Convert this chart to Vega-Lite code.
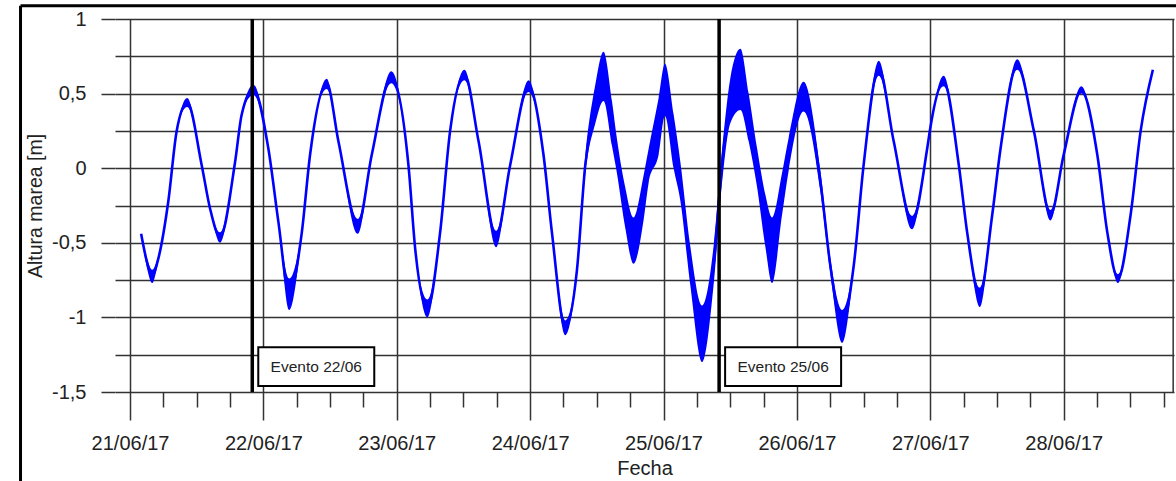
{
  "$schema": "https://vega.github.io/schema/vega-lite/v6.json",
  "width": 1059,
  "height": 373,
  "autosize": {"type": "none"},
  "padding": {"left": 115, "top": 19, "right": 2, "bottom": 89},
  "background": "white",
  "config": {"view": {"stroke": null}, "font": "Liberation Sans"},
  "datasets": {
    "marea": [
      {"fecha": "2017-06-21T02:00", "altura": -0.44, "min": -0.44, "max": -0.44},
      {"fecha": "2017-06-21T03:00", "altura": -0.62, "min": -0.66, "max": -0.6},
      {"fecha": "2017-06-21T04:00", "altura": -0.72, "min": -0.77, "max": -0.68},
      {"fecha": "2017-06-21T05:00", "altura": -0.62, "min": -0.64, "max": -0.6},
      {"fecha": "2017-06-21T06:54", "altura": -0.22, "min": -0.22, "max": -0.22},
      {"fecha": "2017-06-21T08:24", "altura": 0.25, "min": 0.25, "max": 0.25},
      {"fecha": "2017-06-21T10:18", "altura": 0.44, "min": 0.41, "max": 0.47},
      {"fecha": "2017-06-21T12:54", "altura": 0.02, "min": 0.02, "max": 0.02},
      {"fecha": "2017-06-21T14:24", "altura": -0.27, "min": -0.27, "max": -0.27},
      {"fecha": "2017-06-21T16:12", "altura": -0.46, "min": -0.5, "max": -0.43},
      {"fecha": "2017-06-21T18:54", "altura": 0.04, "min": 0.04, "max": 0.04},
      {"fecha": "2017-06-21T20:06", "altura": 0.36, "min": 0.36, "max": 0.36},
      {"fecha": "2017-06-21T22:12", "altura": 0.53, "min": 0.49, "max": 0.56},
      {"fecha": "2017-06-22T00:54", "altura": 0.13, "min": 0.13, "max": 0.13},
      {"fecha": "2017-06-22T02:42", "altura": -0.36, "min": -0.36, "max": -0.36},
      {"fecha": "2017-06-22T04:38", "altura": -0.84, "min": -0.95, "max": -0.74},
      {"fecha": "2017-06-22T06:55", "altura": -0.43, "min": -0.45, "max": -0.41},
      {"fecha": "2017-06-22T08:24", "altura": 0.09, "min": 0.09, "max": 0.09},
      {"fecha": "2017-06-22T11:24", "altura": 0.57, "min": 0.53, "max": 0.6},
      {"fecha": "2017-06-22T13:30", "altura": 0.18, "min": 0.18, "max": 0.18},
      {"fecha": "2017-06-22T17:00", "altura": -0.38, "min": -0.44, "max": -0.34},
      {"fecha": "2017-06-22T19:30", "altura": 0.09, "min": 0.09, "max": 0.09},
      {"fecha": "2017-06-22T23:00", "altura": 0.61, "min": 0.57, "max": 0.65},
      {"fecha": "2017-06-23T02:06", "altura": 0.02, "min": 0.02, "max": 0.02},
      {"fecha": "2017-06-23T03:19", "altura": -0.54, "min": -0.54, "max": -0.54},
      {"fecha": "2017-06-23T05:31", "altura": -0.94, "min": -1.0, "max": -0.88},
      {"fecha": "2017-06-23T07:48", "altura": -0.43, "min": -0.43, "max": -0.43},
      {"fecha": "2017-06-23T09:36", "altura": 0.25, "min": 0.25, "max": 0.25},
      {"fecha": "2017-06-23T12:11", "altura": 0.63, "min": 0.59, "max": 0.66},
      {"fecha": "2017-06-23T14:43", "altura": 0.18, "min": 0.18, "max": 0.18},
      {"fecha": "2017-06-23T17:53", "altura": -0.46, "min": -0.53, "max": -0.42},
      {"fecha": "2017-06-23T20:24", "altura": 0.02, "min": 0.02, "max": 0.02},
      {"fecha": "2017-06-23T23:43", "altura": 0.55, "min": 0.51, "max": 0.59},
      {"fecha": "2017-06-24T02:24", "altura": 0.09, "min": 0.09, "max": 0.09},
      {"fecha": "2017-06-24T03:55", "altura": -0.43, "min": -0.45, "max": -0.41},
      {"fecha": "2017-06-24T06:19", "altura": -1.07, "min": -1.12, "max": -1.02},
      {"fecha": "2017-06-24T08:24", "altura": -0.69, "min": -0.72, "max": -0.66},
      {"fecha": "2017-06-24T09:55", "altura": 0.02, "min": -0.04, "max": 0.08},
      {"fecha": "2017-06-24T11:43", "altura": 0.43, "min": 0.3, "max": 0.56},
      {"fecha": "2017-06-24T13:12", "altura": 0.62, "min": 0.45, "max": 0.78},
      {"fecha": "2017-06-24T14:43", "altura": 0.3, "min": 0.15, "max": 0.45},
      {"fecha": "2017-06-24T15:36", "altura": 0.09, "min": -0.03, "max": 0.2},
      {"fecha": "2017-06-24T17:07", "altura": -0.27, "min": -0.4, "max": -0.13},
      {"fecha": "2017-06-24T18:36", "altura": -0.49, "min": -0.64, "max": -0.33},
      {"fecha": "2017-06-24T20:24", "altura": -0.2, "min": -0.35, "max": -0.05},
      {"fecha": "2017-06-24T21:19", "altura": 0.02, "min": -0.1, "max": 0.13},
      {"fecha": "2017-06-24T23:07", "altura": 0.28, "min": 0.09, "max": 0.47},
      {"fecha": "2017-06-25T00:15", "altura": 0.52, "min": 0.35, "max": 0.7},
      {"fecha": "2017-06-25T01:49", "altura": 0.18, "min": 0.0, "max": 0.36},
      {"fecha": "2017-06-25T03:02", "altura": -0.09, "min": -0.22, "max": 0.04},
      {"fecha": "2017-06-25T04:48", "altura": -0.65, "min": -0.78, "max": -0.52},
      {"fecha": "2017-06-25T06:55", "altura": -1.1, "min": -1.3, "max": -0.92},
      {"fecha": "2017-06-25T09:01", "altura": -0.65, "min": -0.78, "max": -0.52},
      {"fecha": "2017-06-25T10:31", "altura": 0.02, "min": -0.1, "max": 0.12},
      {"fecha": "2017-06-25T12:00", "altura": 0.45, "min": 0.3, "max": 0.6},
      {"fecha": "2017-06-25T13:50", "altura": 0.6, "min": 0.39, "max": 0.8},
      {"fecha": "2017-06-25T15:19", "altura": 0.35, "min": 0.18, "max": 0.5},
      {"fecha": "2017-06-25T16:48", "altura": 0.02, "min": -0.12, "max": 0.14},
      {"fecha": "2017-06-25T18:20", "altura": -0.35, "min": -0.53, "max": -0.18},
      {"fecha": "2017-06-25T19:31", "altura": -0.5, "min": -0.77, "max": -0.33},
      {"fecha": "2017-06-25T21:20", "altura": -0.17, "min": -0.31, "max": -0.03},
      {"fecha": "2017-06-25T22:30", "altura": 0.09, "min": -0.02, "max": 0.2},
      {"fecha": "2017-06-26T01:12", "altura": 0.48, "min": 0.38, "max": 0.58},
      {"fecha": "2017-06-26T04:14", "altura": -0.09, "min": -0.16, "max": -0.02},
      {"fecha": "2017-06-26T06:00", "altura": -0.65, "min": -0.7, "max": -0.6},
      {"fecha": "2017-06-26T08:08", "altura": -1.05, "min": -1.17, "max": -0.95},
      {"fecha": "2017-06-26T10:14", "altura": -0.65, "min": -0.67, "max": -0.63},
      {"fecha": "2017-06-26T12:00", "altura": 0.02, "min": 0.02, "max": 0.02},
      {"fecha": "2017-06-26T14:44", "altura": 0.67, "min": 0.62, "max": 0.72},
      {"fecha": "2017-06-26T17:25", "altura": 0.18, "min": 0.18, "max": 0.18},
      {"fecha": "2017-06-26T20:44", "altura": -0.36, "min": -0.41, "max": -0.32},
      {"fecha": "2017-06-26T23:26", "altura": 0.13, "min": 0.13, "max": 0.13},
      {"fecha": "2017-06-27T00:00", "altura": 0.27, "min": 0.27, "max": 0.27},
      {"fecha": "2017-06-27T02:24", "altura": 0.58, "min": 0.55, "max": 0.62},
      {"fecha": "2017-06-27T05:08", "altura": 0.02, "min": 0.02, "max": 0.02},
      {"fecha": "2017-06-27T06:38", "altura": -0.43, "min": -0.43, "max": -0.43},
      {"fecha": "2017-06-27T08:54", "altura": -0.85, "min": -0.93, "max": -0.8},
      {"fecha": "2017-06-27T11:09", "altura": -0.31, "min": -0.31, "max": -0.31},
      {"fecha": "2017-06-27T12:38", "altura": 0.13, "min": 0.13, "max": 0.13},
      {"fecha": "2017-06-27T15:39", "altura": 0.69, "min": 0.66, "max": 0.73},
      {"fecha": "2017-06-27T18:38", "altura": 0.25, "min": 0.25, "max": 0.25},
      {"fecha": "2017-06-27T21:39", "altura": -0.31, "min": -0.35, "max": -0.28},
      {"fecha": "2017-06-28T00:00", "altura": 0.09, "min": 0.09, "max": 0.09},
      {"fecha": "2017-06-28T03:10", "altura": 0.52, "min": 0.5, "max": 0.55},
      {"fecha": "2017-06-28T06:03", "altura": 0.09, "min": 0.09, "max": 0.09},
      {"fecha": "2017-06-28T07:51", "altura": -0.43, "min": -0.43, "max": -0.43},
      {"fecha": "2017-06-28T09:46", "altura": -0.74, "min": -0.77, "max": -0.71},
      {"fecha": "2017-06-28T12:03", "altura": -0.31, "min": -0.31, "max": -0.31},
      {"fecha": "2017-06-28T13:51", "altura": 0.25, "min": 0.25, "max": 0.25},
      {"fecha": "2017-06-28T16:03", "altura": 0.66, "min": 0.66, "max": 0.66}
    ],
    "eventos": [
      {"evento": "Evento 22/06", "fecha": "2017-06-21T22:00"},
      {"evento": "Evento 25/06", "fecha": "2017-06-25T10:00"}
    ]
  },
  "layer": [
    {
      "data": {"name": "marea"},
      "mark": {"type": "area", "color": "#0000ff", "interpolate": "monotone"},
      "encoding": {
        "x": {
          "field": "fecha", "type": "temporal",
          "scale": {"domain": [
            {"year": 2017, "month": 6, "date": 20, "hours": 21, "minutes": 18},
            {"year": 2017, "month": 6, "date": 28, "hours": 19, "minutes": 51}
          ], "nice": false},
          "axis": {
            "orient": "bottom",
            "values": [
              {"year": 2017, "month": 6, "date": 21},
              {"year": 2017, "month": 6, "date": 22},
              {"year": 2017, "month": 6, "date": 23},
              {"year": 2017, "month": 6, "date": 24},
              {"year": 2017, "month": 6, "date": 25},
              {"year": 2017, "month": 6, "date": 26},
              {"year": 2017, "month": 6, "date": 27},
              {"year": 2017, "month": 6, "date": 28}
            ],
            "format": "%d/%m/%y",
            "grid": true, "gridColor": "#333", "gridWidth": 1.5, "gridOpacity": 1,
            "tickSize": 28, "tickColor": "#333", "tickWidth": 1.5,
            "domain": false,
            "labelFontSize": 20, "labelColor": "#222", "labelPadding": 13,
            "labelFlush": false, "labelOverlap": false,
            "title": "Fecha", "titleFontSize": 20, "titleFontWeight": "normal",
            "titleColor": "#222", "titlePadding": 5
          }
        },
        "y": {
          "field": "min", "type": "quantitative",
          "scale": {"domain": [-1.5, 1], "nice": false, "zero": false},
          "axis": {
            "orient": "left",
            "values": [-1.5, -1, -0.5, 0, 0.5, 1],
            "labelExpr": "replace(toString(datum.value), '.', ',')",
            "grid": false, "tickSize": 14, "tickColor": "#333", "tickWidth": 1.5,
            "domain": false, "labelFontSize": 20, "labelColor": "#222", "labelPadding": 15,
            "title": "Altura marea [m]", "titleFontSize": 19.5, "titleFontWeight": "normal",
            "titleColor": "#222", "titlePadding": 6
          }
        },
        "y2": {"field": "max"}
      }
    },
    {
      "data": {"name": "marea"},
      "mark": {"type": "line", "color": "#0000ff", "strokeWidth": 2.6, "interpolate": "monotone"},
      "encoding": {
        "x": {
          "field": "fecha", "type": "temporal",
          "axis": {
            "orient": "bottom",
            "values": [
              {"year": 2017, "month": 6, "date": 21, "hours": 6},
              {"year": 2017, "month": 6, "date": 21, "hours": 12},
              {"year": 2017, "month": 6, "date": 21, "hours": 18},
              {"year": 2017, "month": 6, "date": 22, "hours": 6},
              {"year": 2017, "month": 6, "date": 22, "hours": 12},
              {"year": 2017, "month": 6, "date": 22, "hours": 18},
              {"year": 2017, "month": 6, "date": 23, "hours": 6},
              {"year": 2017, "month": 6, "date": 23, "hours": 12},
              {"year": 2017, "month": 6, "date": 23, "hours": 18},
              {"year": 2017, "month": 6, "date": 24, "hours": 6},
              {"year": 2017, "month": 6, "date": 24, "hours": 12},
              {"year": 2017, "month": 6, "date": 24, "hours": 18},
              {"year": 2017, "month": 6, "date": 25, "hours": 6},
              {"year": 2017, "month": 6, "date": 25, "hours": 12},
              {"year": 2017, "month": 6, "date": 25, "hours": 18},
              {"year": 2017, "month": 6, "date": 26, "hours": 6},
              {"year": 2017, "month": 6, "date": 26, "hours": 12},
              {"year": 2017, "month": 6, "date": 26, "hours": 18},
              {"year": 2017, "month": 6, "date": 27, "hours": 6},
              {"year": 2017, "month": 6, "date": 27, "hours": 12},
              {"year": 2017, "month": 6, "date": 27, "hours": 18},
              {"year": 2017, "month": 6, "date": 28, "hours": 6},
              {"year": 2017, "month": 6, "date": 28, "hours": 12},
              {"year": 2017, "month": 6, "date": 28, "hours": 18}
            ],
            "grid": false, "labels": false, "domain": false,
            "tickSize": 15, "tickColor": "#333", "tickWidth": 1.5, "title": null
          }
        },
        "y": {
          "field": "altura", "type": "quantitative",
          "axis": {
            "orient": "left",
            "values": [-1.5, -1.25, -1, -0.75, -0.5, -0.25, 0, 0.25, 0.5, 0.75, 1],
            "grid": true, "gridColor": "#333", "gridWidth": 1.5, "gridOpacity": 1,
            "ticks": false, "labels": false, "domain": false, "title": null
          }
        }
      }
    },
    {
      "data": {"values": [{"borde": "derecho"}]},
      "mark": {"type": "rule", "color": "#333", "strokeWidth": 1.5},
      "encoding": {
        "x": {"datum": {"year": 2017, "month": 6, "date": 28, "hours": 19, "minutes": 42}, "type": "temporal", "axis": null},
        "y": {"datum": 1, "type": "quantitative", "axis": null},
        "y2": {"datum": -1.5}
      }
    },
    {
      "data": {"name": "eventos"},
      "mark": {"type": "rule", "color": "#000000", "strokeWidth": 3.5},
      "encoding": {
        "x": {"field": "fecha", "type": "temporal", "axis": null},
        "y": {"datum": 1, "type": "quantitative", "axis": null},
        "y2": {"datum": -1.5}
      }
    },
    {
      "data": {"name": "eventos"},
      "mark": {"type": "rect", "fill": "#ffffff", "stroke": "#000000", "strokeWidth": 2, "xOffset": 6, "x2Offset": 122},
      "encoding": {
        "x": {"field": "fecha", "type": "temporal", "axis": null},
        "x2": {"field": "fecha"},
        "y": {"datum": -1.2, "type": "quantitative", "axis": null},
        "y2": {"datum": -1.46}
      }
    },
    {
      "data": {"name": "eventos"},
      "mark": {"type": "text", "dx": 64, "align": "center", "baseline": "middle", "fontSize": 15.5, "color": "#222"},
      "encoding": {
        "x": {"field": "fecha", "type": "temporal", "axis": null},
        "y": {"datum": -1.33, "type": "quantitative", "axis": null},
        "text": {"field": "evento"}
      }
    },
    {
      "data": {"values": [{"marco": "izquierdo"}]},
      "mark": {"type": "rule", "color": "#000000", "strokeWidth": 3},
      "encoding": {
        "x": {"datum": {"year": 2017, "month": 6, "date": 20, "hours": 4, "minutes": 18}, "type": "temporal", "axis": null},
        "y": {"datum": 1.088, "type": "quantitative", "axis": null},
        "y2": {"datum": -2.3}
      }
    },
    {
      "data": {"values": [{"marco": "superior"}]},
      "mark": {"type": "rule", "color": "#000000", "strokeWidth": 3},
      "encoding": {
        "x": {"datum": {"year": 2017, "month": 6, "date": 20, "hours": 4, "minutes": 18}, "type": "temporal", "axis": null},
        "x2": {"datum": {"year": 2017, "month": 6, "date": 29, "hours": 6}},
        "y": {"datum": 1.088, "type": "quantitative", "axis": null}
      }
    }
  ],
  "resolve": {"axis": {"x": "independent", "y": "independent"}}
}
